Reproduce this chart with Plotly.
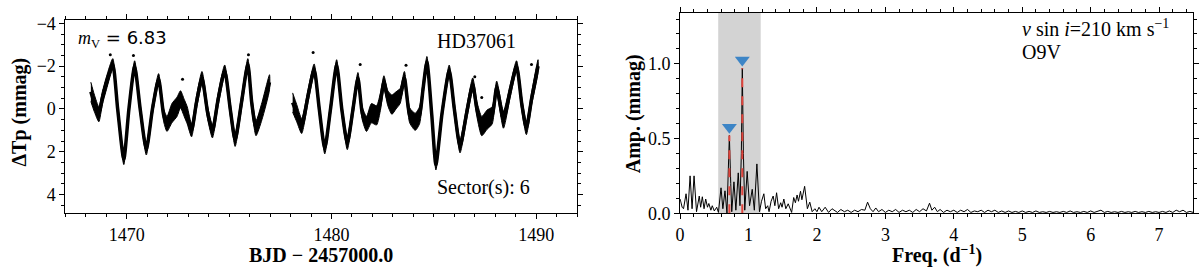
import plotly.graph_objects as go

# ---------------- light curve (HD37061, TESS sector 6) ----------------
lc_time = [
    1468.24, 1468.40, 1468.63, 1468.80, 1469.00, 1469.31, 1469.55, 1469.85, 1470.10, 1470.38,
    1470.65, 1470.95, 1471.25, 1471.55, 1471.80, 1471.96, 1472.20, 1472.45, 1472.62, 1472.80,
    1472.95, 1473.16, 1473.40, 1473.67, 1473.95, 1474.18, 1474.45, 1474.78, 1475.05, 1475.29,
    1475.60, 1475.91, 1476.10, 1476.31, 1476.60, 1476.97,
    1478.10, 1478.30, 1478.54, 1478.85, 1479.15, 1479.40, 1479.67, 1479.95, 1480.25, 1480.50,
    1480.77, 1481.05, 1481.29, 1481.50, 1481.71, 1481.95, 1482.20, 1482.40, 1482.56, 1482.75,
    1482.95, 1483.15, 1483.35, 1483.56, 1483.82, 1484.09, 1484.30, 1484.48, 1484.66, 1484.90,
    1485.10, 1485.40, 1485.75, 1486.00, 1486.28, 1486.60, 1486.90, 1487.10, 1487.34, 1487.60,
    1487.85, 1488.07, 1488.40, 1488.72, 1489.04, 1489.30, 1489.52, 1489.78, 1490.09,
]
lc_flux = [
    -0.80, -0.30, 0.25, -0.50, -1.20, -2.10, 0.00, 2.35, 0.00, -2.00,
    0.00, 1.90, 0.00, -1.40, 0.30, 0.70, 0.20, -0.10, -0.45, -0.05,
    0.30, 1.00, -0.30, -1.45, 0.20, 1.05, -0.40, -1.80, 0.00, 1.45,
    -0.30, -2.10, -0.30, 0.90, 0.10, -1.25,
    -0.30, 0.20, 0.80, -0.60, -1.85, 0.00, 1.85, 0.00, -2.05, 0.00,
    1.60, 0.00, -1.45, 0.20, 0.70, 0.20, 0.30, -0.40, -1.25, -0.50,
    -0.20, -0.40, -0.60, -1.45, 0.30, 0.60, 0.30, -1.00, -2.20, 0.30,
    2.60, 0.20, -1.80, 0.00, 1.75, 0.20, -1.15, 0.00, 0.80, 0.50,
    0.30, -1.00, 0.50, -0.80, -2.00, -0.20, 0.90, -0.50, -2.00,
]
lc_scatter = [
    0.45, 0.40, 0.35, 0.30, 0.30, 0.25, 0.25, 0.25, 0.25, 0.25,
    0.25, 0.25, 0.25, 0.25, 0.30, 0.35, 0.45, 0.45, 0.40, 0.40,
    0.40, 0.30, 0.30, 0.30, 0.30, 0.30, 0.30, 0.25, 0.30, 0.30,
    0.30, 0.25, 0.30, 0.35, 0.40, 0.35,
    0.45, 0.40, 0.35, 0.30, 0.25, 0.25, 0.25, 0.25, 0.25, 0.25,
    0.30, 0.30, 0.25, 0.30, 0.35, 0.45, 0.45, 0.40, 0.30, 0.35,
    0.45, 0.40, 0.35, 0.30, 0.35, 0.40, 0.40, 0.30, 0.25, 0.25,
    0.25, 0.25, 0.25, 0.30, 0.30, 0.30, 0.30, 0.35, 0.45, 0.45,
    0.40, 0.30, 0.40, 0.30, 0.25, 0.30, 0.30, 0.30, 0.30,
]
outlier_time = [1469.19, 1470.32, 1472.72, 1475.94, 1479.10, 1481.40, 1483.64, 1487.00, 1487.34, 1489.77]
outlier_flux = [-2.53, -2.50, -1.39, -2.53, -2.64, -2.08, -2.04, -1.50, -0.54, -2.08]

# ---------------- amplitude spectrum ----------------
freq = [
    0.000, 0.030, 0.050, 0.087, 0.115, 0.146, 0.175, 0.204, 0.240, 0.280,
    0.300, 0.325, 0.350, 0.374, 0.400, 0.420, 0.450, 0.470, 0.500, 0.535,
    0.560, 0.598, 0.625, 0.656, 0.685, 0.700, 0.720, 0.740, 0.755, 0.787,
    0.815, 0.850, 0.875, 0.895, 0.909, 0.925, 0.945, 0.980, 1.015, 1.054,
    1.085, 1.122, 1.160, 1.190, 1.224, 1.250, 1.280, 1.300, 1.330, 1.360,
    1.385, 1.410, 1.440, 1.470, 1.490, 1.516, 1.545, 1.580, 1.630, 1.660,
    1.685, 1.710, 1.730, 1.760, 1.780, 1.820, 1.860, 1.895, 1.930, 1.970,
    2.000, 2.030, 2.070, 2.120, 2.170, 2.220, 2.250, 2.300, 2.350, 2.400,
    2.450, 2.500, 2.550, 2.600, 2.650, 2.700, 2.740, 2.780, 2.820, 2.860,
    2.900, 2.950, 3.000, 3.050, 3.100, 3.150, 3.200, 3.250, 3.300, 3.350,
    3.400, 3.450, 3.500, 3.550, 3.600, 3.645, 3.680, 3.720, 3.760, 3.800,
    3.850, 3.900, 3.950, 4.000, 4.050, 4.100, 4.150, 4.200, 4.250, 4.300,
    4.350, 4.400, 4.450, 4.500, 4.550, 4.600, 4.650, 4.700, 4.750, 4.800,
    4.850, 4.900, 4.950, 5.000, 5.050, 5.100, 5.150, 5.200, 5.250, 5.300,
    5.350, 5.400, 5.450, 5.500, 5.550, 5.600, 5.650, 5.700, 5.750, 5.800,
    5.850, 5.900, 5.950, 6.000, 6.050, 6.100, 6.150, 6.200, 6.250, 6.300,
    6.350, 6.400, 6.450, 6.500, 6.550, 6.600, 6.650, 6.700, 6.750, 6.800,
    6.850, 6.900, 6.950, 7.000, 7.050, 7.100, 7.150, 7.200, 7.250, 7.300,
    7.350, 7.400, 7.450, 7.500,
]
amp = [
    0.095, 0.040, 0.030, 0.130, 0.020, 0.250, 0.030, 0.250, 0.010, 0.115,
    0.040, 0.110, 0.030, 0.095, 0.040, 0.065, 0.020, 0.050, 0.015, 0.040,
    0.005, 0.170, 0.030, 0.150, 0.000, 0.200, 0.520, 0.200, 0.010, 0.210,
    0.020, 0.270, 0.050, 0.400, 0.970, 0.400, 0.020, 0.280, 0.050, 0.160,
    0.020, 0.330, 0.010, 0.080, 0.130, 0.030, 0.050, 0.010, 0.080, 0.115,
    0.050, 0.137, 0.030, 0.070, 0.040, 0.095, 0.030, 0.063, 0.005, 0.105,
    0.070, 0.122, 0.080, 0.147, 0.090, 0.180, 0.030, 0.074, 0.010, 0.030,
    0.010, 0.040, 0.010, 0.040, 0.005, 0.030, 0.020, 0.005, 0.025, 0.010,
    0.020, 0.005, 0.020, 0.010, 0.025, 0.020, 0.074, 0.030, 0.010, 0.035,
    0.010, 0.025, 0.005, 0.020, 0.010, 0.025, 0.005, 0.020, 0.010, 0.020,
    0.005, 0.025, 0.010, 0.030, 0.015, 0.067, 0.020, 0.040, 0.010, 0.025,
    0.005, 0.020, 0.010, 0.020, 0.005, 0.020, 0.010, 0.025, 0.005, 0.015,
    0.010, 0.020, 0.005, 0.020, 0.010, 0.020, 0.005, 0.015, 0.005, 0.015,
    0.005, 0.012, 0.005, 0.015, 0.005, 0.012, 0.005, 0.015, 0.005, 0.010,
    0.005, 0.012, 0.005, 0.010, 0.005, 0.012, 0.005, 0.015, 0.005, 0.010,
    0.005, 0.012, 0.005, 0.015, 0.005, 0.010, 0.020, 0.005, 0.012, 0.005,
    0.010, 0.005, 0.012, 0.005, 0.010, 0.005, 0.012, 0.005, 0.010, 0.005,
    0.012, 0.005, 0.010, 0.005, 0.012, 0.005, 0.015, 0.005, 0.020, 0.010,
    0.020, 0.005, 0.012, 0.005,
]
peak_freq = [0.720, 0.909]
peak_amp = [0.520, 0.970]
window_lo, window_hi = 0.557, 1.178

FONT = "Liberation Serif"
fig = go.Figure()

# light-curve band, one polygon per orbit
segs, start = [], 0
for i in range(1, len(lc_time)):
    if lc_time[i] - lc_time[i - 1] > 0.5:
        segs.append((start, i))
        start = i
segs.append((start, len(lc_time)))
for a, b in segs:
    t = lc_time[a:b]
    v = lc_flux[a:b]
    s = lc_scatter[a:b]
    upper = [vi - si for vi, si in zip(v, s)]
    lower = [vi + si for vi, si in zip(v, s)]
    fig.add_trace(go.Scatter(x=t + t[::-1], y=upper + lower[::-1], fill="toself",
                             fillcolor="black", mode="lines",
                             line=dict(color="black", width=1, shape="spline", smoothing=0.6),
                             xaxis="x", yaxis="y", hoverinfo="skip", showlegend=False))
    fig.add_trace(go.Scatter(x=t, y=v, mode="lines",
                             line=dict(color="black", width=3.5, shape="spline", smoothing=0.6),
                             xaxis="x", yaxis="y", showlegend=False))
fig.add_trace(go.Scatter(x=outlier_time, y=outlier_flux, mode="markers",
                         marker=dict(color="black", size=3), xaxis="x", yaxis="y",
                         showlegend=False))

# spectrum
fig.add_trace(go.Scatter(x=freq, y=amp, mode="lines", line=dict(color="black", width=1),
                         xaxis="x2", yaxis="y2", showlegend=False))
vx, vy = [], []
for f, a in zip(peak_freq, peak_amp):
    vx += [f, f, None]
    vy += [0, a, None]
fig.add_trace(go.Scatter(x=vx, y=vy, mode="lines",
                         line=dict(color="#e0443c", width=2, dash="dash"),
                         xaxis="x2", yaxis="y2", showlegend=False))
fig.add_trace(go.Scatter(x=peak_freq, y=[a + 0.055 for a in peak_amp], mode="markers",
                         marker=dict(symbol="triangle-down", size=13, color="#3d85c6"),
                         xaxis="x2", yaxis="y2", showlegend=False))

fig.add_shape(type="rect", xref="x2", yref="y2 domain", x0=window_lo, x1=window_hi,
              y0=0, y1=1, fillcolor="#d3d3d3", line=dict(width=0), layer="below")

tickfont = dict(family=FONT, size=18, color="black")
common = dict(showline=True, linecolor="black", linewidth=1, mirror="ticks",
              ticks="outside", ticklen=5, tickwidth=1, tickcolor="black",
              showgrid=False, zeroline=False, tickfont=tickfont)

fig.update_layout(
    width=1200, height=275,
    margin=dict(l=0, r=0, t=0, b=0),
    paper_bgcolor="white", plot_bgcolor="white",
    showlegend=False,
    xaxis=dict(domain=[0.0514, 0.4792], range=[1467, 1492], tick0=1470, dtick=10,
               minor=dict(tick0=1470, dtick=1, ticks="outside", ticklen=3, tickcolor="black"),
               anchor="y", **common),
    yaxis=dict(domain=[0.2, 0.9455], range=[4.87, -4.15], tick0=0, dtick=2,
               minor=dict(tick0=0, dtick=0.5, ticks="outside", ticklen=3, tickcolor="black"),
               anchor="x", **common),
    xaxis2=dict(domain=[0.5653, 0.9944], range=[0, 7.5], tick0=0, dtick=1,
                minor=dict(tick0=0, dtick=0.2, ticks="outside", ticklen=3, tickcolor="black"),
                anchor="y2", **common),
    yaxis2=dict(domain=[0.2, 0.9727], range=[0, 1.34], tick0=0, dtick=0.5, tickformat=".1f",
                minor=dict(tick0=0, dtick=0.1, ticks="outside", ticklen=3, tickcolor="black"),
                anchor="x2", **common),
)

def ann(text, x, y, size, xanchor="left", angle=0):
    fig.add_annotation(text=text, x=x / 1200, y=1 - y / 275, xref="paper", yref="paper",
                       xanchor=xanchor, yanchor="middle", showarrow=False, textangle=angle,
                       font=dict(family=FONT, size=size, color="black"))

# axis titles
ann("<b>BJD − 2457000.0</b>", 318.5, 264, 20, xanchor="center")
ann("<b>ΔTp (mmag)</b>", 16, 112, 20, xanchor="center", angle=-90)
ann("<b>Freq. (d<sup>−1</sup>)</b>", 936, 264, 20, xanchor="center")
ann("<b>Amp. (mmag)</b>", 631, 114, 20, xanchor="center", angle=-90)

# labels in panels
ann("<i>m</i><sub>V</sub><span style=\"font-family:'DejaVu Sans'\"> = 6.83</span>", 72, 35, 18)
ann("HD37061", 432, 37, 20)
ann("Sector(s): 6", 432, 193, 20)
ann("<i>v</i> sin <i>i</i>=210 km s<sup>−1</sup>", 1019, 23, 20)
ann("O9V", 1019, 49, 20)

fig.write_html("out.html", config={"displayModeBar": False},
               post_script="document.body.style.margin='0';document.body.style.overflow='hidden';")
